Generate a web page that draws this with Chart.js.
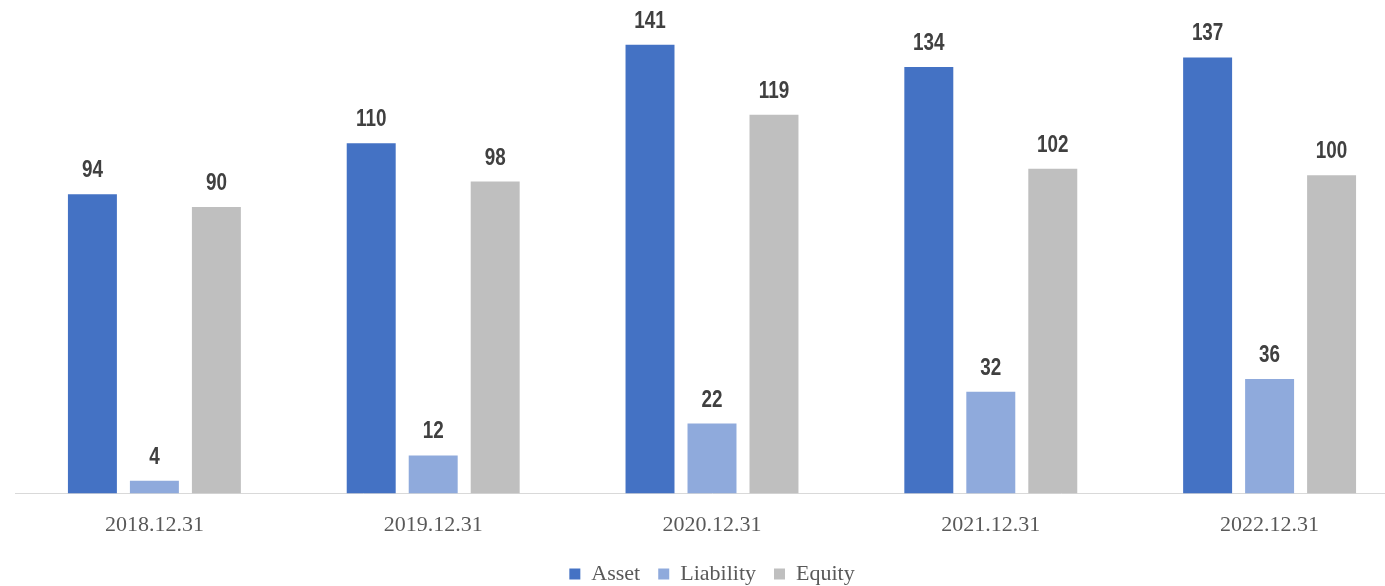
<!DOCTYPE html>
<html>
<head>
<meta charset="utf-8">
<script src="https://cdn.jsdelivr.net/npm/chart.js@4.4.0/dist/chart.umd.min.js"></script>
<style>
  html, body { margin: 0; padding: 0; background: #fff; overflow: hidden; }
  #wrap { width: 1409px; height: 595px; }
</style>
</head>
<body>
<div id="wrap"><canvas id="chart" width="1409" height="595"></canvas></div>
<script>
/* ── Data ── */
const CATEGORIES = ['2018.12.31', '2019.12.31', '2020.12.31', '2021.12.31', '2022.12.31'];
const ASSET      = [94, 110, 141, 134, 137];
const LIABILITY  = [4, 12, 22, 32, 36];
const EQUITY     = [90, 98, 119, 102, 100];

const COLORS = { asset: '#4472C4', liability: '#8FAADC', equity: '#BFBFBF' };
const SERIF  = '"Liberation Serif", "DejaVu Serif", serif';
const SANS   = '"Liberation Sans", Arial, sans-serif';

/* ── Value labels above bars (condensed bold) ── */
const valueLabels = {
  id: 'valueLabels',
  afterDatasetsDraw(chart) {
    const ctx = chart.ctx;
    chart.data.datasets.forEach((ds, i) => {
      chart.getDatasetMeta(i).data.forEach((bar, j) => {
        ctx.save();
        ctx.translate(bar.x, bar.y - 17);
        ctx.scale(0.82, 1);
        ctx.font = 'bold 23px ' + SANS;
        ctx.fillStyle = '#404040';
        ctx.textAlign = 'center';
        ctx.textBaseline = 'alphabetic';
        ctx.fillText(String(ds.data[j]), 0, 0);
        ctx.restore();
      });
    });
  }
};

new Chart(document.getElementById('chart'), {
  type: 'bar',
  data: {
    labels: CATEGORIES,
    datasets: [
      { label: 'Asset',     data: ASSET,     backgroundColor: COLORS.asset },
      { label: 'Liability', data: LIABILITY, backgroundColor: COLORS.liability },
      { label: 'Equity',    data: EQUITY,    backgroundColor: COLORS.equity },
    ],
  },
  options: {
    responsive: false,
    animation: false,
    datasets: { bar: { categoryPercentage: 0.667, barPercentage: 0.79 } },
    layout: { padding: { top: 16, left: 15, right: 0, bottom: 0 } },
    scales: {
      x: {
        grid: { display: false },
        border: { color: '#D9D9D9', width: 1 },
        ticks: { color: '#595959', font: { family: SERIF, size: 22 }, padding: 10 },
        afterFit(scale) { scale.height -= 3; },
      },
      y: { display: false, min: 0, max: 150 },
    },
    plugins: {
      legend: {
        position: 'bottom',
        labels: {
          color: '#595959',
          font: { family: SERIF, size: 22 },
          boxWidth: 11, boxHeight: 11, padding: 18,
        },
      },
      tooltip: { enabled: false },
    },
  },
  plugins: [valueLabels],
});
</script>
</body>
</html>
